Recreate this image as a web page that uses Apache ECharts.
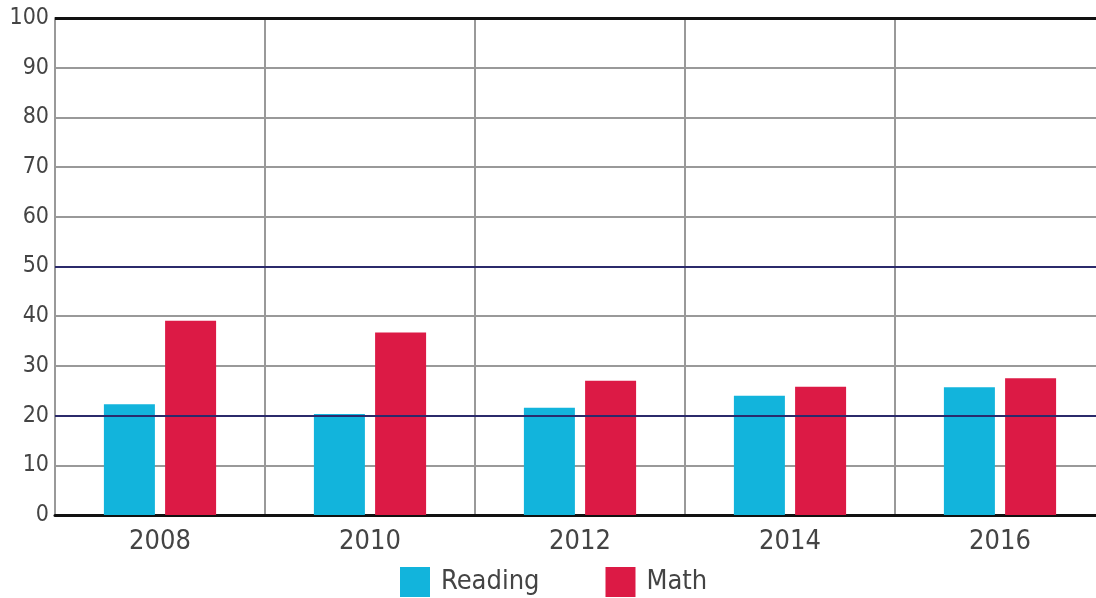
<!DOCTYPE html>
<html>
<head>
<meta charset="utf-8">
<script src="https://cdn.jsdelivr.net/npm/echarts@6/dist/echarts.min.js"></script>
<style>html,body{margin:0;padding:0;background:#fff;overflow:hidden;width:1096px;height:598px;}#c{width:1106px;height:598px;}</style>
</head>
<body>
<div id="c"></div>
<script>
const categories = ['2008', '2010', '2012', '2014', '2016'];
const reading = [22.3, 20.3, 21.6, 24.0, 25.7];
const math = [39.1, 36.7, 27.0, 25.8, 27.5];
const yTicks = [0, 10, 20, 30, 40, 50, 60, 70, 80, 90, 100];
const refLines = [20, 50];
const FONT = '"Liberation Sans Narrow", "DejaVu Sans Condensed", sans-serif';

const chart = echarts.init(document.getElementById('c'));
chart.setOption({
  animation: false,
  grid: { left: 55, top: 18, right: 1, bottom: 83, containLabel: false },
  legend: {
    data: ['Reading', 'Math'],
    left: 395, top: 562,
    icon: 'rect', itemWidth: 30, itemHeight: 30, itemGap: 66,
    textStyle: { fontFamily: FONT, fontSize: 27, color: '#444', padding: [0, 0, 0, 6] }
  },
  xAxis: {
    type: 'category', data: categories, boundaryGap: true,
    axisLine: { show: true, lineStyle: { color: '#111', width: 3 } },
    axisTick: { show: false },
    axisLabel: { fontFamily: FONT, fontSize: 27, color: '#444', margin: 13 },
    splitLine: { show: true, interval: 0, lineStyle: { color: '#999', width: 2 } }
  },
  yAxis: {
    type: 'value', min: yTicks[0], max: yTicks[yTicks.length - 1], interval: 10,
    axisLine: { show: true, lineStyle: { color: '#999', width: 2 } },
    axisTick: { show: false },
    axisLabel: { fontFamily: FONT, fontSize: 23, color: '#444', margin: 6 },
    splitLine: { show: true, lineStyle: { color: '#999', width: 2 } }
  },
  series: [
    {
      name: 'Reading', type: 'bar', data: reading, barWidth: 51, barGap: '20%',
      itemStyle: { color: '#12b4dc' },
      markLine: {
        silent: true, symbol: 'none', z: 10, label: { show: false },
        lineStyle: { color: '#2b2a6b', width: 2, type: 'solid' },
        data: refLines.map(v => ({ yAxis: v }))
      }
    },
    {
      name: 'Math', type: 'bar', data: math, barWidth: 51,
      itemStyle: { color: '#dc1a45' },
      markLine: {
        silent: true, symbol: 'none', z: 10, label: { show: false },
        lineStyle: { color: '#111', width: 3, type: 'solid' },
        data: [{ yAxis: yTicks[yTicks.length - 1] }]
      }
    }
  ]
});
</script>
</body>
</html>
